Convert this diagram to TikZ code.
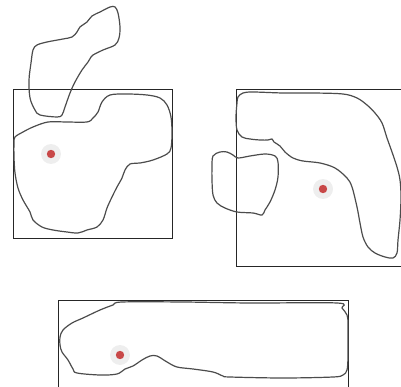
\documentclass[tikz,border=0pt]{standalone}
\definecolor{dotred}{RGB}{200,72,72}
\definecolor{halogray}{RGB}{238,238,238}
\begin{document}
\begin{tikzpicture}[x=1pt,y=-1pt,
  frame/.style={draw=black!85,line width=0.9pt},
  blob/.style={draw=black!70,line width=1.2pt,smooth cycle,tension=0.55},
  halo/.style={fill=halogray},
  dot/.style={fill=dotred}]
\useasboundingbox (0,0) rectangle (401,387);
% frames
\draw[frame] (13,89) rectangle (172,238);
\draw[frame] (236,89) rectangle (401,266);
\draw[frame] (58,300) -- (348,300);
\draw[frame] (58,300) -- (58,390);
\draw[frame] (348,300) -- (348,390);
% blob A
\draw[blob] plot coordinates {(115,7) (118,13) (120,27) (119,38) (115,45) (103,50) (93,55) (91,57) (88,62) (82,70) (75,82) (70,93) (65,107) (62,115) (57,117) (40,115) (35,110) (30,98) (29,80) (31,63) (33,50) (37,45) (47,42) (63,39) (72,37) (77,32) (80,27) (87,22) (92,16) (100,12) (110,7)};
% blob B
\draw[blob] plot coordinates {(15,137) (23,132) (33,127) (48,122) (67,122) (87,122) (93,118) (98,112) (102,102) (110,95) (127,94) (147,95) (160,98) (167,105) (171,117) (172,133) (171,148) (167,154) (153,160) (140,163) (130,164) (125,170) (122,178) (117,187) (112,197) (107,208) (103,220) (97,227) (87,230) (78,233) (67,232) (53,230) (42,227) (33,220) (30,212) (23,200) (18,188) (15,173) (14,157) (14,143)};
% blob C
\draw[blob] plot coordinates {(213,156) (220,152) (227,152) (233,155) (238,158) (250,156) (265,154) (275,156) (278,162) (278,177) (275,190) (270,202) (265,210) (262,215) (253,213) (237,212) (225,208) (217,203) (213,195) (212,180) (212,167)};
% blob D
\draw[blob] plot coordinates {(238,97) (243,93) (253,92) (283,93) (313,93) (343,94) (357,98) (367,105) (375,113) (382,123) (387,138) (392,152) (397,167) (400,180) (401,197) (400,220) (398,240) (397,253) (393,258) (385,257) (375,253) (368,247) (363,237) (360,223) (357,207) (352,187) (347,178) (335,168) (320,163) (303,161) (293,158) (285,152) (280,146) (274,142) (272,139) (268,140) (260,140) (250,139) (242,137) (237,130) (236,117) (237,103)};
% blob E
\draw[blob] plot coordinates {(60,337) (63,330) (72,323) (83,318) (100,310) (113,305) (122,302) (183,302) (250,303) (337,303) (342,308) (347,315) (348,323) (348,340) (348,357) (347,370) (343,375) (333,377) (283,378) (230,377) (223,376) (213,372) (193,369) (177,367) (167,362) (157,356) (150,356) (142,360) (133,366) (125,369) (117,374) (100,375) (77,373) (73,369) (68,360) (62,352) (60,345)};
% dots
\foreach \p in {(51,154),(323,189),(120,355)} {
  \fill[halo] \p circle (10);
  \fill[dot] \p circle (4.2);
}
\end{tikzpicture}
\end{document}
